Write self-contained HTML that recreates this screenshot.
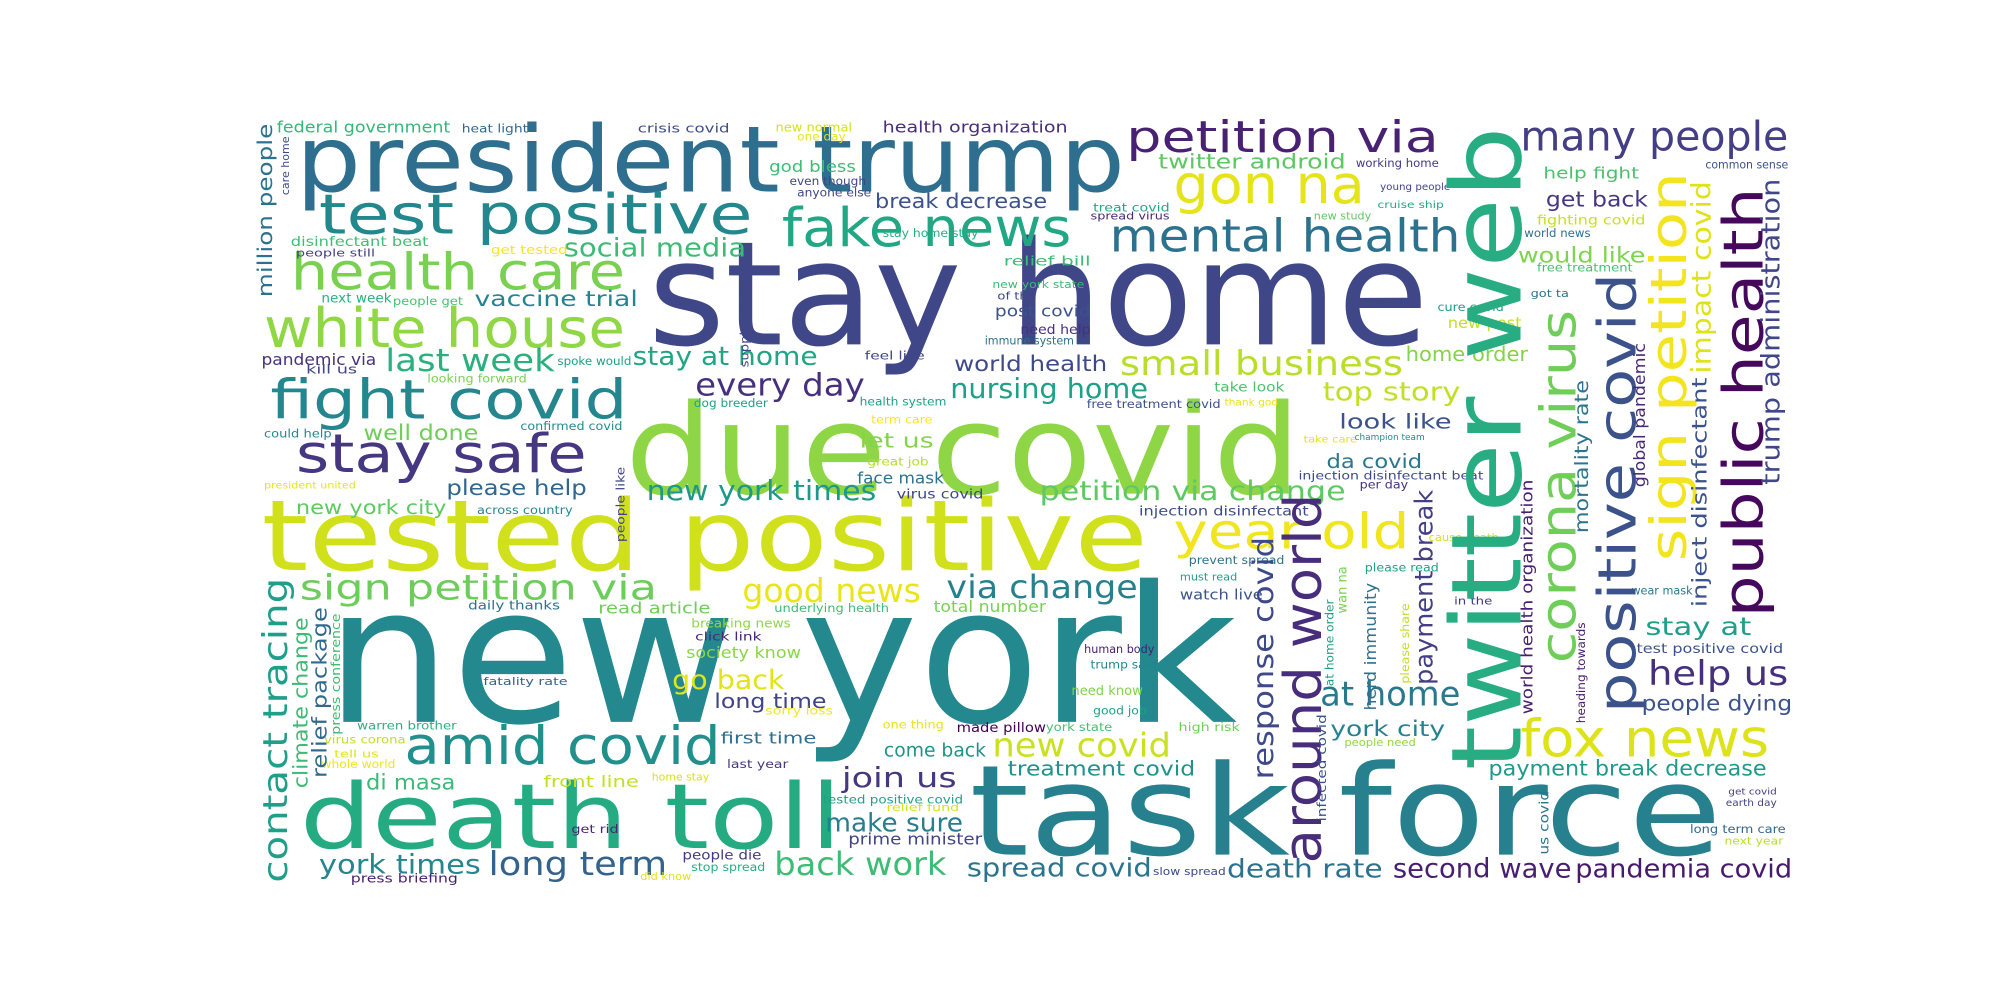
<!DOCTYPE html>
<html><head><meta charset="utf-8"><style>
html,body{margin:0;padding:0;background:#fff;}
svg{display:block;}
text{font-family:"DejaVu Sans","Liberation Sans",sans-serif;}
</style></head><body>
<svg id="cloud" width="2000" height="1000" viewBox="0 0 1568 784" xmlns="http://www.w3.org/2000/svg"></svg>
<script>
// [text, x, baselineY (or bottom y for vertical), length, color, vertical]
const words = [
["new york",255,566,715,"#23898e",0],
["stay home",508,270,612,"#3f4788",0],
["due covid",490,387,530,"#8ed645",0],
["tested positive",205,447,695,"#d0e11c",0],
["task force",760,670,590,"#27808e",0],
["president trump",232,150,650,"#2e6e8e",0],
["death toll",235,665,425,"#25ab82",0],
["test positive",250,183,340,"#23888e",0],
["health care",228,227,262,"#7ad151",0],
["white house",207,272,283,"#8fd744",0],
["fight covid",212,328,280,"#24868e",0],
["stay safe",232,370,228,"#453781",0],
["amid covid",317,599,248,"#21908d",0],
["fake news",613,193,227,"#22a785",0],
["petition via",883,119,245,"#482173",0],
["gon na",920,159,150,"#e5e419",0],
["mental health",870,197,275,"#2c728e",0],
["many people",1192,118,210,"#433e85",0],
["fox news",1192,593,195,"#dde318",0],
["year old",920,430,185,"#f1e51d",0],
["small business",878,294,222,"#b8de29",0],
["every day",545,310,133,"#46307e",0],
["last week",302,291,133,"#2ab07f",0],
["social media",442,201,143,"#3bbb75",0],
["vaccine trial",372,240,128,"#25848e",0],
["new york times",507,392,180,"#1f978b",0],
["petition via change",815,392,240,"#5ec962",0],
["nursing home",745,312,155,"#1fa088",0],
["world health",748,291,120,"#3e4989",0],
["sign petition via",235,470,280,"#6ccd5a",0],
["good news",582,472,140,"#eae51a",0],
["via change",742,469,150,"#27808e",0],
["go back",527,540,88,"#e2e418",0],
["long time",560,555,88,"#414487",0],
["first time",565,583,75,"#2d708e",0],
["come back",693,593,80,"#21918c",0],
["new covid",778,593,140,"#cae11f",0],
["treatment covid",790,608,147,"#21918c",0],
["join us",660,617,90,"#453781",0],
["make sure",647,652,108,"#287d8e",0],
["prime minister",665,662,105,"#414487",0],
["back work",607,686,135,"#3dbc74",0],
["spread covid",758,687,145,"#2c738e",0],
["long term",383,686,140,"#33638d",0],
["york times",250,685,127,"#24868e",0],
["di masa",287,619,70,"#3aba76",0],
["front line",426,617,75,"#c2df23",0],
["people die",535,674,62,"#443983",0],
["death rate",962,688,122,"#2c728e",0],
["second wave",1092,688,140,"#481f70",0],
["pandemia covid",1235,688,170,"#481a6c",0],
["payment break decrease",1167,608,218,"#1f9a8a",0],
["york city",1043,577,90,"#26828e",0],
["at home",1035,553,110,"#2a788e",0],
["help us",1292,537,110,"#46307e",0],
["people dying",1287,557,118,"#3b528b",0],
["stay at",1290,498,83,"#1f9e89",0],
["test positive covid",1283,512,115,"#3b528b",0],
["look like",1050,336,88,"#3b528b",0],
["da covid",1040,367,75,"#2a788e",0],
["top story",1037,314,108,"#c0df25",0],
["home order",1102,283,96,"#84d44b",0],
["would like",1190,206,100,"#7fd34e",0],
["get back",1212,162,80,"#453781",0],
["help fight",1210,140,75,"#4ac16d",0],
["fighting covid",1205,176,85,"#c8e020",0],
["twitter android",908,132,147,"#5cc863",0],
["break decrease",686,163,135,"#3b528b",0],
["health organization",692,104,145,"#472d7b",0],
["crisis covid",500,104,72,"#3e4c8a",0],
["new normal",608,103,60,"#d5e21a",0],
["one day",625,110,38,"#e5e419",0],
["god bless",603,135,68,"#3fbc73",0],
["even though",619,145,60,"#404588",0],
["anyone else",625,154,58,"#3f4788",0],
["federal government",217,104,136,"#35b779",0],
["heat light",362,104,52,"#31688e",0],
["disinfectant beat",228,193,108,"#40bd72",0],
["people still",232,201,62,"#433e85",0],
["get tested",385,199,60,"#f6e620",0],
["next week",252,237,55,"#29af7f",0],
["people get",308,239,55,"#4ac16d",0],
["pandemic via",205,286,90,"#46327e",0],
["kill us",240,293,40,"#404588",0],
["spoke would",437,286,58,"#1fa088",0],
["stay at home",496,286,145,"#21a585",0],
["looking forward",335,300,78,"#7ad151",0],
["dog breeder",544,319,58,"#1fa088",0],
["health system",674,318,68,"#1f9f88",0],
["feel like",678,282,47,"#404688",0],
["well done",285,345,90,"#6ece58",0],
["could help",207,343,53,"#24878e",0],
["confirmed covid",408,337,80,"#238a8d",0],
["term care",683,332,48,"#f8e621",0],
["let us",674,351,58,"#84d44b",0],
["great job",680,365,48,"#b5de2b",0],
["face mask",672,379,68,"#2c718e",0],
["virus covid",703,391,68,"#404688",0],
["please help",350,388,110,"#31678e",0],
["president united",207,383,72,"#e4e419",0],
["new york city",232,403,118,"#5ec962",0],
["across country",374,403,75,"#23898e",0],
["injection disinfectant",893,404,133,"#3e4a89",0],
["prevent spread",932,442,75,"#2c738e",0],
["must read",925,455,45,"#1fa088",0],
["watch live",925,470,65,"#3b528b",0],
["daily thanks",367,478,72,"#2c728e",0],
["read article",469,481,88,"#6ece58",0],
["underlying health",607,480,90,"#3dbc74",0],
["total number",732,480,88,"#7ad151",0],
["breaking news",542,492,78,"#90d743",0],
["click link",545,502,52,"#482677",0],
["society know",538,516,90,"#8bd646",0],
["fatality rate",379,537,66,"#33638d",0],
["sorry loss",600,560,53,"#f4e61e",0],
["warren brother",280,572,78,"#2ab07f",0],
["virus corona",254,583,64,"#c2df23",0],
["tell us",262,594,35,"#e2e418",0],
["whole world",252,602,58,"#f1e51d",0],
["one thing",692,571,48,"#e7e419",0],
["made pillow",750,574,70,"#440154",0],
["york state",820,573,52,"#44bf70",0],
["high risk",924,573,48,"#6ece58",0],
["human body",850,512,55,"#481d6f",0],
["trump said",855,524,52,"#24868e",0],
["need know",840,545,56,"#7fd34e",0],
["good job",857,560,42,"#1fa088",0],
["people need",1054,585,56,"#90d743",0],
["last year",570,602,48,"#453781",0],
["home stay",511,612,45,"#d8e219",0],
["tested positive covid",645,630,110,"#1fa088",0],
["relief fund",695,636,57,"#d5e21a",0],
["get rid",448,653,37,"#482475",0],
["stop spread",542,683,58,"#27ad81",0],
["did know",502,690,40,"#e5e419",0],
["press briefing",275,692,84,"#481f70",0],
["slow spread",904,686,57,"#3e4989",0],
["cause death",1120,424,55,"#d5e21a",0],
["please read",1070,448,58,"#1fa088",0],
["in the",1140,474,30,"#453781",0],
["wear mask",1279,466,48,"#2a788e",0],
["per day",1066,383,38,"#46307e",0],
["injection disinfectant beat",1018,376,145,"#3e4989",0],
["take care",1022,347,42,"#e5e419",0],
["champion team",1062,345,55,"#238a8d",0],
["take look",952,307,55,"#4ac16d",0],
["thank god",960,318,42,"#e8e419",0],
["free treatment covid",852,320,105,"#3b528b",0],
["immune system",772,270,70,"#2c728e",0],
["need help",800,262,55,"#46307e",0],
["post covid",780,248,75,"#3b528b",0],
["of the",782,235,30,"#404588",0],
["new york state",778,226,72,"#3dbc74",0],
["relief bill",787,208,68,"#3dbc74",0],
["stay home stay",692,186,75,"#27ad81",0],
["treat covid",857,166,60,"#22a785",0],
["spread virus",855,172,62,"#482777",0],
["working home",1063,131,65,"#443983",0],
["young people",1082,149,55,"#404688",0],
["cruise ship",1080,163,52,"#22a785",0],
["new study",1030,172,45,"#5ec962",0],
["world news",1195,186,52,"#2c728e",0],
["free treatment",1205,213,75,"#44bf70",0],
["got ta",1200,233,30,"#2c738e",0],
["cure covid",1127,244,52,"#1f9e89",0],
["new post",1135,257,58,"#c2df23",0],
["common sense",1337,132,65,"#3b528b",0],
["get covid",1355,623,38,"#443983",0],
["earth day",1353,632,40,"#404688",0],
["long term care",1325,653,75,"#31688e",0],
["next year",1352,662,46,"#b8de29",0],
// vertical words: [text, left x, bottom y, length, color, 1]
["twitter web",1134,604,505,"#27ad81",1],
["public health",1349,484,337,"#46085c",1],
["sign petition",1292,440,305,"#f2e51d",1],
["positive covid",1251,559,345,"#3b528b",1],
["corona virus",1206,520,277,"#6ece58",1],
["around world",1005,677,290,"#472d7b",1],
["payment break",1108,537,153,"#433e85",1],
["response covid",981,611,190,"#3e4989",1],
["herd immunity",1069,557,100,"#2c728e",1],
["contact tracing",205,692,239,"#1f9e89",1],
["climate change",229,618,134,"#3bbb75",1],
["relief package",244,610,134,"#31688e",1],
["press conference",259,576,95,"#3dbc74",1],
["million people",201,233,136,"#2c728e",1],
["care home",220,153,46,"#3e4989",1],
["mortality rate",1234,418,120,"#2c738e",1],
["impact covid",1325,293,151,"#dde318",1],
["inject disinfectant",1326,476,180,"#3b528b",1],
["global pandemic",1280,382,113,"#482878",1],
["trump administration",1380,380,240,"#404688",1],
["world health organization",1192,560,184,"#481f70",1],
["heading towards",1236,567,79,"#481d6f",1],
["at home order",1039,538,68,"#1fa088",1],
["wan na",1048,481,37,"#7ad151",1],
["please share",1098,536,63,"#c0df25",1],
["infected covid",1032,644,84,"#3b528b",1],
["us covid",1206,670,50,"#2c728e",1],
["supply chain",580,288,65,"#404688",1],
["people like",483,425,59,"#404688",1]
];
const NS = "http://www.w3.org/2000/svg";
const svg = document.getElementById("cloud");
words.forEach(w => {
  const fs = w[3] / (w[0].length * 0.6);
  const t = document.createElementNS(NS, "text");
  
  
  t.setAttribute("font-size", fs.toFixed(2));
  t.setAttribute("fill", w[4]);
  t.setAttribute("textLength", w[3]);
  t.setAttribute("lengthAdjust", "spacingAndGlyphs");
  if (w[5]) {
    const xb = w[1] + 0.76 * fs;
    t.setAttribute("transform", "translate(" + xb.toFixed(1) + "," + w[2] + ") rotate(-90)");
    t.setAttribute("x", 0);
    t.setAttribute("y", 0);
  } else {
    t.setAttribute("x", w[1]);
    t.setAttribute("y", w[2]);
  }
  t.textContent = w[0];
  svg.appendChild(t);
});
</script>
</body></html>
